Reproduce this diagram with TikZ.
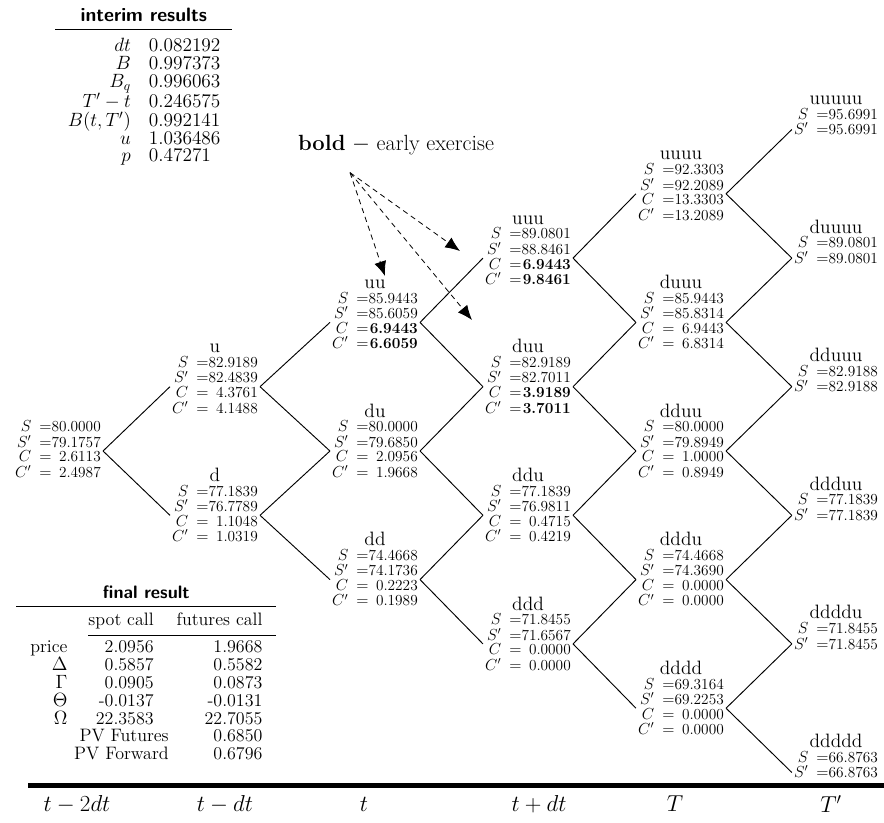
\documentclass[tikz,border=0pt]{standalone}
\usepackage{tikz}
\usetikzlibrary{positioning, arrows.meta, calc}

\newcommand{\vfour}[4]{\begin{tabular}{@{}r@{\hspace{6pt}}l@{}r@{}}$S$&$=$&#1\\$S'$&$=$&#2\\$C$&$=$&#3\\$C'$&$=$&#4\end{tabular}}
\newcommand{\vtwo}[2]{\begin{tabular}{@{}r@{\hspace{6pt}}l@{}r@{}}$S$&$=$&#1\\$S'$&$=$&#2\end{tabular}}
\newcommand{\tabtitle}[1]{{\sffamily\bfseries #1}}

\begin{document}
\begin{tikzpicture}[x=0.75pt, y=-0.75pt,
  val/.style={inner xsep=1.5pt, inner ysep=0pt, font=\fontsize{11.5}{9.3}\selectfont},
  lbl/.style={inner sep=0pt, font=\fontsize{14.5}{15}\selectfont},
  branch/.style={line width=0.7pt},
  hint/.style={dash pattern=on 4pt off 3pt, line width=0.6pt, -{Latex[length=11pt, width=9pt]}},
  tbl/.style={inner sep=0pt, font=\fontsize{13.5}{12.5}\selectfont},
  tlab/.style={font=\fontsize{16.5}{18}\selectfont}
]
  \useasboundingbox (0,0) rectangle (884,822);

  % interim results
  \node[tbl, font=\fontsize{14.5}{11.6}\selectfont, anchor=north west] (interim) at (55,8.2) {%
    \begin{tabular}{@{\hspace{9.4pt}}r@{\hspace{13.5pt}}l@{\hspace{9pt}}}
      \multicolumn{2}{c}{\tabtitle{interim results}}\\[1.8pt]
      \hline\noalign{\vskip 6.9pt}
      $dt$ & 0.082192\\
      $B$ & 0.997373\\
      $B_q$ & 0.996063\\
      $T'-t$ & 0.246575\\
      $B(t,T')$ & 0.992141\\
      $u$ & 1.036486\\
      $p$ & 0.47271
    \end{tabular}};

  % final result
  \node[tbl, anchor=north west] (final) at (16,585.3) {%
    \begin{tabular}{@{\hspace{10.5pt}}r@{\hspace{15.75pt}}r@{\hspace{17.25pt}}r@{\hspace{10.5pt}}}
      \multicolumn{3}{c}{\tabtitle{final result}}\\[2.25pt]
      \hline\noalign{\vskip 4.7pt}
      & spot call & futures call\\[3pt]
      \cline{2-3}\noalign{\vskip 4pt}
      price & 2.0956 & 1.9668\\
      $\Delta$ & 0.5857 & 0.5582\\
      $\Gamma$ & 0.0905 & 0.0873\\
      $\Theta$ & -0.0137 & -0.0131\\
      $\Omega$ & 22.3583 & 22.7055\\
      \multicolumn{2}{r}{PV Futures} & 0.6850\\
      \multicolumn{2}{r}{PV Forward} & 0.6796
    \end{tabular}};

  % tree (level j sits at y = 451 - 64.3 j)
  \node[val] (s0) at (58,451) {\vfour{80.0000}{79.1757}{2.6113}{2.4987}};

  \foreach \n/\x/\j/\a/\b/\c/\d in {
      u/215/1/82.9189/82.4839/4.3761/4.1488,
      d/215/-1/77.1839/76.7789/1.1048/1.0319,
      uu/375/2/85.9443/85.6059/\textbf{6.9443}/\textbf{6.6059},
      du/375/0/80.0000/79.6850/2.0956/1.9668,
      dd/375/-2/74.4668/74.1736/0.2223/0.1989,
      uuu/528/3/89.0801/88.8461/\textbf{6.9443}/\textbf{9.8461},
      duu/528/1/82.9189/82.7011/\textbf{3.9189}/\textbf{3.7011},
      ddu/528/-1/77.1839/76.9811/0.4715/0.4219,
      ddd/528/-3/71.8455/71.6567/0.0000/0.0000,
      uuuu/681/4/92.3303/92.2089/13.3303/13.2089,
      duuu/681/2/85.9443/85.8314/6.9443/6.8314,
      dduu/681/0/80.0000/79.8949/1.0000/0.8949,
      dddu/681/-2/74.4668/74.3690/0.0000/0.0000,
      dddd/681/-4/69.3164/69.2253/0.0000/0.0000} {
    \node[val] (\n) at (\x,{451-64.3*\j}) {\vfour{\a}{\b}{\c}{\d}};
    \node[lbl, above=2.25pt of \n] (\n-l) {\n};
  }

  % last column: two lines, entered at the S' line
  \foreach \n/\j/\a in {uuuuu/5/95.6991, duuuu/3/89.0801, dduuu/1/82.9188,
      ddduu/-1/77.1839, ddddu/-3/71.8455, ddddd/-5/66.8763} {
    \node[val] (\n) at (836,{451-64.3*\j-6.2}) {\vtwo{\a}{\a}};
    \node[lbl, above=2.25pt of \n] (\n-l) {\n};
  }

  \foreach \a/\b in {s0/u, s0/d, u/uu, u/du, d/du, d/dd,
      uu/uuu, uu/duu, du/duu, du/ddu, dd/ddu, dd/ddd,
      uuu/uuuu, uuu/duuu, duu/duuu, duu/dduu, ddu/dduu, ddu/dddu, ddd/dddu, ddd/dddd}
    \draw[branch] (\a.east) -- (\b.west);
  \foreach \a/\b in {uuuu/uuuuu, uuuu/duuuu, duuu/duuuu, duuu/dduuu, dduu/dduuu, dduu/ddduu,
      dddu/ddduu, dddu/ddddu, dddd/ddddu, dddd/ddddd}
    \draw[branch] (\a.east) -- ([yshift=-4.65pt]\b.west);

  % early exercise hint
  \node[font=\fontsize{16.5}{18}\selectfont] (note) at (396,145) {\textbf{bold} $-$ early exercise};
  \coordinate (fork) at ($(note.south)+(-46,13)$);
  \coordinate (e1) at (385,276);
  \coordinate (e2) at (460,251);
  \coordinate (e3) at (472,320);
  \foreach \e in {e1,e2,e3}
    \draw[hint] (fork) -- (\e);

  % time axis
  \draw[line width=3.75pt] (28,785) -- (884,785);
  \foreach \n/\x/\t in {a0/77/{t-2dt}, a1/225/{t-dt}, a2/364/t, a3/539/{t+dt}, a4/675/T, a5/831/{T'}}
    \node[tlab] (\n) at (\x,804) {$\t$};
\end{tikzpicture}
\end{document}
